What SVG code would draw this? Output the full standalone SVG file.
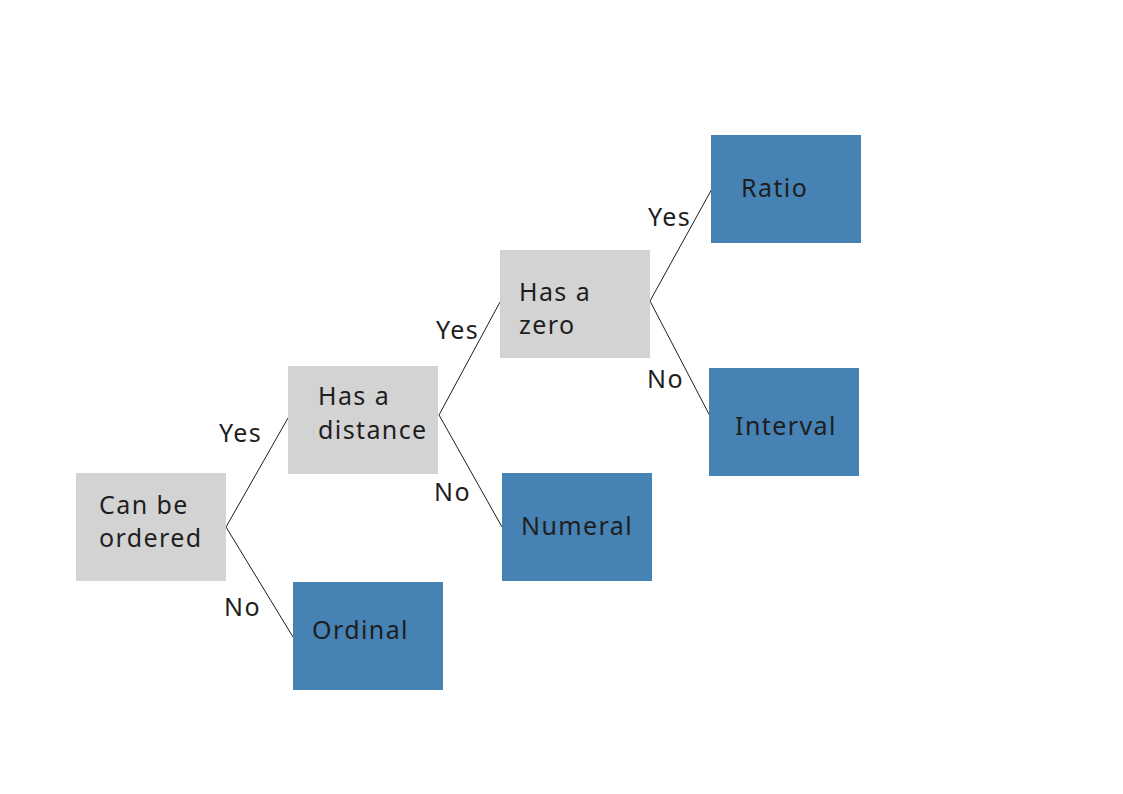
<svg xmlns="http://www.w3.org/2000/svg" width="1123" height="794" viewBox="0 0 1123 794">
<style>
.q{fill:#d3d3d3}
.a{fill:#4682b4}
text{font-family:"Noto Sans","Liberation Sans",sans-serif;font-size:25px;letter-spacing:1.4px;fill:#1e1e1e}
.c line{stroke:#1e1e1e;stroke-width:1}
</style>
<rect width="1123" height="794" fill="#fff"/>
<g class="c" id="connectors">
<line x1="226" y1="527" x2="288" y2="418"/>
<line x1="226" y1="527" x2="293" y2="637"/>
<line x1="439" y1="415" x2="500" y2="302"/>
<line x1="439" y1="415" x2="502" y2="527"/>
<line x1="650" y1="301" x2="713" y2="187"/>
<line x1="650" y1="301" x2="711" y2="418"/>
<text x="219" y="442">Yes</text>
<text x="224" y="616">No</text>
<text x="436" y="339">Yes</text>
<text x="434" y="501">No</text>
<text x="648" y="226">Yes</text>
<text x="647" y="388">No</text>
</g>
<g id="ordered"><rect class="q" x="76" y="473" width="150" height="108"/><text x="99" y="514">Can be</text><text x="99" y="547">ordered</text></g>
<g id="distance"><rect class="q" x="288" y="366" width="150" height="108"/><text x="318" y="405">Has a</text><text x="318" y="439">distance</text></g>
<g id="ordinal"><rect class="a" x="293" y="582" width="150" height="108"/><text x="312" y="639">Ordinal</text></g>
<g id="zero"><rect class="q" x="500" y="250" width="150" height="108"/><text x="519" y="301">Has a</text><text x="519" y="334">zero</text></g>
<g id="numeral"><rect class="a" x="502" y="473" width="150" height="108"/><text x="521" y="535">Numeral</text></g>
<g id="ratio"><rect class="a" x="711" y="135" width="150" height="108"/><text x="741" y="197">Ratio</text></g>
<g id="interval"><rect class="a" x="709" y="368" width="150" height="108"/><text x="735" y="435">Interval</text></g>
</svg>
